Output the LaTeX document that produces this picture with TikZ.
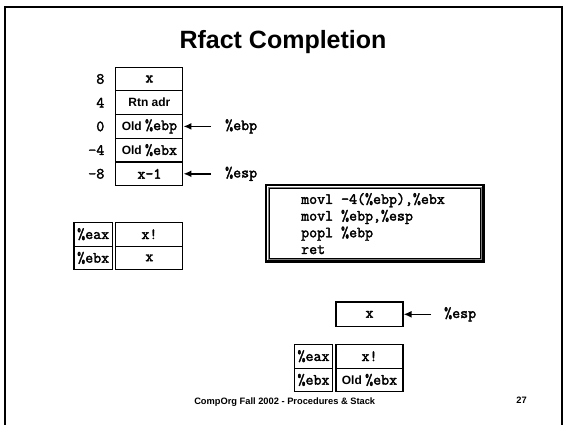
\documentclass[tikz,border=0pt]{standalone}
\usepackage{fontspec}
\setmainfont{Liberation Sans}
\setsansfont{Liberation Sans}
\newfontfamily\slabmono{Latin Modern Mono}[FakeBold=2.2]
\usetikzlibrary{arrows.meta}

\newcommand{\mono}[1]{{\slabmono\fontsize{15.5}{17}\selectfont #1}}
\newcommand{\sans}[1]{{\sffamily\bfseries\fontsize{12}{14}\selectfont #1}}

\tikzset{
  cell/.style={draw, line width=1.1pt, inner sep=0pt, minimum width=67pt, minimum height=23.7pt},
  regcell/.style={cell, minimum width=38.4pt},
  ptr/.style={line width=1.6pt, -{Latex[length=8pt,width=7pt]}},
  offset/.style={anchor=east, inner sep=0pt},
  lbl/.style={anchor=west, inner sep=0pt},
}

\begin{document}
\begin{tikzpicture}[x=1pt,y=-1pt]
\useasboundingbox (0,0) rectangle (565,424);
\fill[white] (0,0) rectangle (565,424);

% slide frame
\draw[line width=2pt] (5,430) -- (5,7) -- (562,7) -- (562,430);

% title
\node[inner sep=0pt] (title) at (283,42.2)
  {\sffamily\bfseries\fontsize{25}{29}\selectfont Rfact Completion};

% stack frame
\node[cell] (s8)  at (149.4,79.0)  {\mono{x}};
\node[cell] (s4)  at (149.4,102.7) {\sans{Rtn adr}};
\node[cell] (s0)  at (149.4,126.4) {\sans{Old \mono{\%ebp}}};
\node[cell] (sm4) at (149.4,150.1) {\sans{Old \mono{\%ebx}}};
\node[cell] (sm8) at (149.4,173.8) {\mono{x-1}};

\node[offset] (o8)  at (104.5,79.0)  {\mono{8}};
\node[offset] (o4)  at (104.5,102.7) {\mono{4}};
\node[offset] (o0)  at (104.5,126.4) {\mono{0}};
\node[offset] (om4) at (104.5,150.1) {\mono{-4}};
\node[offset] (om8) at (104.5,173.8) {\mono{-8}};

% frame pointers
\coordinate (ebpTail) at (211,126.4);
\coordinate (espTail) at (211,173.8);
\node[lbl] (ebpLbl) at (225,126.4) {\mono{\%ebp}};
\node[lbl] (espLbl) at (225,173.8) {\mono{\%esp}};
\draw[ptr] (ebpTail) -- (s0.east);
\draw[ptr] (espTail) -- (sm8.east);

% registers before
\node[regcell] (eaxA) at (93.2,234.2) {\mono{\%eax}};
\node[regcell] (ebxA) at (93.2,257.9) {\mono{\%ebx}};
\node[cell] (eaxAv) at (149.4,234.2) {\mono{x!}};
\node[cell] (ebxAv) at (149.4,257.9) {\mono{x}};

% code box
\draw[line width=2.4pt] (266,185.2) rectangle (483.4,261.6);
\draw[line width=1.4pt, gray] (268.2,187.4) rectangle (481.2,259.4);
\draw[line width=0.8pt] (269.4,188.6) rectangle (480,258.2);
\node[anchor=west, inner sep=0pt, align=left,
      font=\slabmono\fontsize{15.5}{16.7}\selectfont] (code) at (301,223.6)
  {movl -4(\%ebp),\%ebx\\
   movl \%ebp,\%esp\\
   popl \%ebp\\
   ret};

% stack after
\node[cell, minimum height=24.7pt] (sx) at (369.5,314.3) {\mono{x}};
\coordinate (esp2Tail) at (431,314.3);
\node[lbl] (esp2Lbl) at (444,314.3) {\mono{\%esp}};
\draw[ptr] (esp2Tail) -- (sx.east);

% registers after
\node[regcell, minimum width=37.5pt] (eaxB) at (313.5,356.2) {\mono{\%eax}};
\node[regcell, minimum width=37.5pt] (ebxB) at (313.5,379.9) {\mono{\%ebx}};
\node[cell] (eaxBv) at (369.5,356.2) {\mono{x!}};
\node[cell] (ebxBv) at (369.5,379.9) {\sans{Old \mono{\%ebx}}};

% footer
\node[inner sep=0pt] (footer) at (284.7,401.7)
  {\sffamily\bfseries\fontsize{9.3}{11}\selectfont CompOrg Fall 2002 - Procedures \& Stack};
\node[inner sep=0pt] (page) at (521.5,400.7)
  {\sffamily\bfseries\fontsize{9.3}{11}\selectfont 27};
\end{tikzpicture}
\end{document}
